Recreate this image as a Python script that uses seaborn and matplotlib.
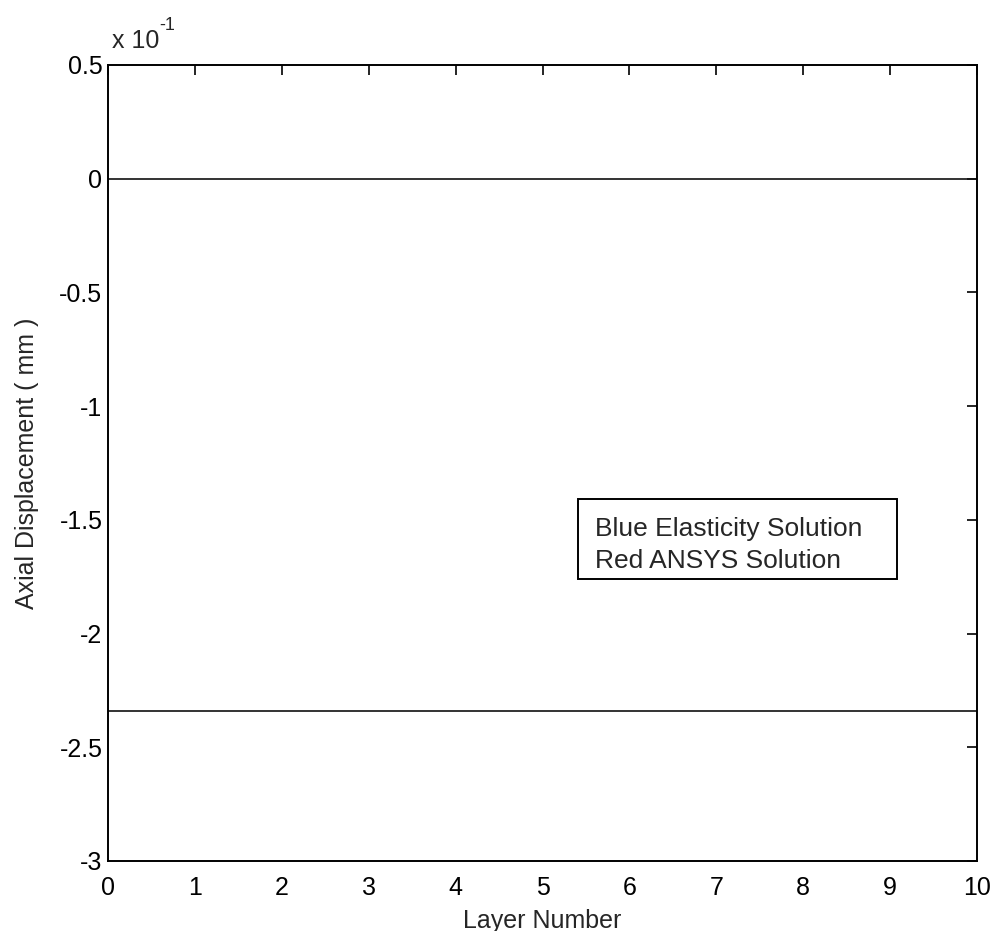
import numpy as np
import pandas as pd
import matplotlib

matplotlib.use("Agg")
import matplotlib.pyplot as plt
from matplotlib.patches import Rectangle
import seaborn as sns

# values shown in units of 1e-1 mm (axis multiplier "x 10^-1")
LAYERS = [0, 1, 2, 3, 4, 5, 6, 7, 8, 9, 10]
ELASTICITY = [-2.34, -2.34, -2.34, -2.34, -2.34, -2.34, -2.34, -2.34, -2.34, -2.34, -2.34]
ANSYS = [0.0, 0.0, 0.0, 0.0, 0.0, 0.0, 0.0, 0.0, 0.0, 0.0, 0.0]
SOLUTIONS = ["Elasticity", "ANSYS"]

X_TICKS = [0, 1, 2, 3, 4, 5, 6, 7, 8, 9, 10]
Y_TICKS = [0.5, 0, -0.5, -1, -1.5, -2, -2.5, -3]
Y_TICK_LABELS = ["0.5", "0", "-0.5", "-1", "-1.5", "-2", "-2.5", "-3"]
NOTE_LINES = ["Blue Elasticity Solution", "Red ANSYS Solution"]

sns.set_style("white")
plt.rcParams["font.family"] = ["Liberation Sans", "DejaVu Sans"]

df = pd.DataFrame(
    {
        "layer": LAYERS * 2,
        "disp": ELASTICITY + ANSYS,
        "solution": [SOLUTIONS[0]] * len(LAYERS) + [SOLUTIONS[1]] * len(LAYERS),
    }
)

fig = plt.figure(figsize=(9.92, 9.31), dpi=100)
ax = fig.add_axes([0.1089, 0.0752, 0.876, 0.855])

sns.lineplot(
    data=df,
    x="layer",
    y="disp",
    hue="solution",
    palette=["#111111", "#111111"],
    linewidth=1.2,
    legend=False,
    ax=ax,
)

ax.set_xlim(0, 10)
ax.set_ylim(-3, 0.5)
ax.set_xticks(X_TICKS)
ax.set_yticks(Y_TICKS)
ax.set_yticklabels(Y_TICK_LABELS)
ax.tick_params(
    direction="in", length=7, width=1.2, labelsize=18, colors="black",
    top=True, right=True,
)
ax.tick_params(axis="x", pad=11)
ax.tick_params(axis="y", pad=4)
for sp in ax.spines.values():
    sp.set_linewidth(1.4)
    sp.set_color("black")

ax.set_xlabel("Layer Number", fontsize=18, labelpad=6)
ax.set_ylabel("Axial Displacement ( mm )", fontsize=18, labelpad=15)

# multiplier note above the axes
fig.text(112 / 992, 1 - 48 / 931, "x 10", fontsize=18, ha="left", va="baseline")
fig.text(159 / 992, 1 - 30 / 931, "-1", fontsize=13, ha="left", va="baseline")

# boxed annotation
ax.add_patch(
    Rectangle((5.41, -1.760), 3.67, 0.351, facecolor="white", edgecolor="black",
              linewidth=1.4, zorder=5)
)
ax.text(5.60, -1.571, NOTE_LINES[0], fontsize=19, va="baseline", zorder=6)
ax.text(5.60, -1.712, NOTE_LINES[1], fontsize=19, va="baseline", zorder=6)

fig.savefig("out.png", dpi=100)
